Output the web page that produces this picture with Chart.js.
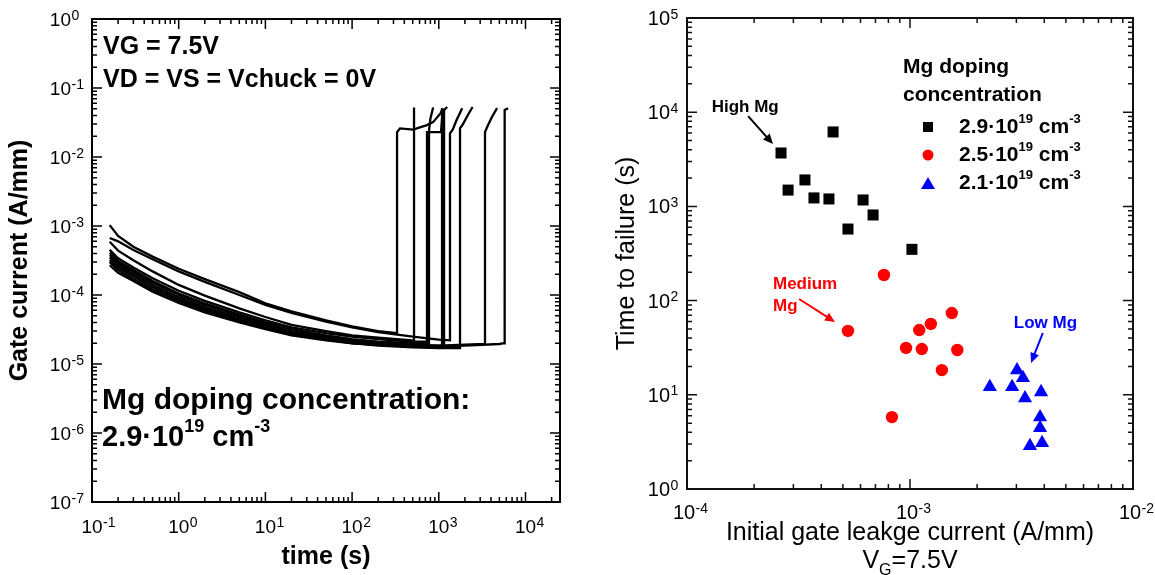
<!DOCTYPE html>
<html lang="en">
<head>
<meta charset="UTF-8">
<title>Gate current and time to failure</title>
<script src="https://cdn.jsdelivr.net/npm/chart.js"></script>
<style>
  body { margin: 0; background: #fff; width: 1155px; height: 575px; position: relative; overflow: hidden; }
  canvas { position: absolute; top: 0; }
  #leftChart { left: 0; }
  #rightChart { left: 575px; }
</style>
</head>
<body>
<canvas id="leftChart" width="575" height="575"></canvas>
<canvas id="rightChart" width="580" height="575"></canvas>
<script>
// ---- left panel: gate current traces (VG = 7.5 V) ----
const decayTime = [0.16, 0.2, 0.3, 0.5, 1, 2, 5, 10, 20, 50, 100, 200, 500, 1000, 2000, 5000];
// current (A/mm) of each trace on decayTime, up to its breakdown
const decayCurrents = [
  [1.03e-3, 7.2e-4, 5.0e-4, 3.6e-4, 2.4e-4, 1.7e-4, 1.1e-4, 7.6e-5, 5.8e-5, 4.3e-5, 3.5e-5, 3.0e-5],
  [6.7e-4, 6.0e-4, 4.5e-4, 3.3e-4, 2.2e-4, 1.55e-4, 1.0e-4, 7.2e-5, 5.5e-5, 4.1e-5, 3.4e-5, 2.9e-5, 2.5e-5, 2.25e-5],
  [5.9e-4, 4.4e-4, 3.2e-4, 2.2e-4, 1.4e-4, 9.8e-5, 6.4e-5, 4.8e-5, 3.7e-5, 3.0e-5, 2.6e-5, 2.4e-5, 2.2e-5],
  [4.5e-4, 3.4e-4, 2.5e-4, 1.75e-4, 1.15e-4, 8.2e-5, 5.6e-5, 4.3e-5, 3.4e-5, 2.8e-5, 2.5e-5, 2.3e-5, 2.1e-5],
  [4.1e-4, 3.1e-4, 2.3e-4, 1.6e-4, 1.05e-4, 7.6e-5, 5.2e-5, 4.0e-5, 3.2e-5, 2.6e-5, 2.3e-5, 2.1e-5, 2.0e-5],
  [3.8e-4, 2.9e-4, 2.15e-4, 1.5e-4, 1.0e-4, 7.2e-5, 5.0e-5, 3.8e-5, 3.0e-5, 2.5e-5, 2.2e-5, 2.0e-5, 1.9e-5, 1.85e-5],
  [3.5e-4, 2.7e-4, 2.0e-4, 1.4e-4, 9.3e-5, 6.7e-5, 4.7e-5, 3.6e-5, 2.9e-5, 2.4e-5, 2.1e-5, 1.95e-5, 1.85e-5, 1.8e-5],
  [3.2e-4, 2.5e-4, 1.85e-4, 1.3e-4, 8.7e-5, 6.3e-5, 4.4e-5, 3.4e-5, 2.75e-5, 2.3e-5, 2.0e-5, 1.85e-5, 1.75e-5, 1.7e-5],
  [3.0e-4, 2.3e-4, 1.7e-4, 1.2e-4, 8.2e-5, 6.0e-5, 4.2e-5, 3.3e-5, 2.7e-5, 2.25e-5, 2.0e-5, 1.9e-5, 1.85e-5, 1.85e-5, 1.9e-5],
  [2.7e-4, 2.1e-4, 1.6e-4, 1.12e-4, 7.7e-5, 5.6e-5, 4.0e-5, 3.2e-5, 2.6e-5, 2.2e-5, 2.0e-5, 1.9e-5, 1.8e-5, 1.8e-5, 1.85e-5, 1.95e-5]
];
// breakdown and after: time (s) and current (A/mm)
const postTimes = [
  [330, 330, 357, 505, 730, 860, 1050, 1100],
  [1346, 1346, 1450, 1600, 1860],
  [518, 518],
  [731, 731, 1060, 1090, 1110],
  [771, 771, 800, 860],
  [1090, 1090, 1150, 1250],
  [1150, 1150],
  [1757, 1757, 1900, 2150, 2450],
  [3412, 3412, 3700, 4100, 4700],
  [5650, 5650, 5800, 5800, 6300]
];
const postCurrents = [
  [2.8e-5, 2.3e-2, 2.6e-2, 2.5e-2, 2.9e-2, 3.2e-2, 4.3e-2, 5.1e-2],
  [2.2e-5, 2.2e-2, 2.5e-2, 3.4e-2, 5.1e-2],
  [2.2e-5, 5.2e-2],
  [2.1e-5, 2.3e-2, 2.3e-2, 3.5e-2, 5.0e-2],
  [2.0e-5, 2.4e-2, 3.6e-2, 5.2e-2],
  [1.85e-5, 4.5e-2, 4.8e-2, 5.3e-2],
  [1.8e-5, 5.0e-2],
  [1.7e-5, 2.6e-2, 3.0e-2, 4.0e-2, 5.3e-2],
  [1.95e-5, 2.3e-2, 2.9e-2, 3.8e-2, 5.1e-2],
  [2.0e-5, 7.2e-3, 7.2e-3, 4.8e-2, 5.1e-2]
];

// ---- right panel: time to failure vs initial leakage ----
const highMgLeak = [2.64e-4, 4.52e-4, 2.84e-4, 3.38e-4, 3.71e-4, 4.33e-4, 5.27e-4, 6.16e-4, 6.83e-4, 1.02e-3];
const highMgTtf  = [3690, 6170, 1490, 1910, 1230, 1200, 575, 1170, 811, 350];
const medMgLeak  = [7.64e-4, 5.27e-4, 9.6e-4, 1.10e-3, 1.24e-3, 1.13e-3, 8.3e-4, 1.39e-3, 1.54e-3, 1.63e-3];
const medMgTtf   = [187, 47.6, 31.4, 48.7, 56.5, 30.6, 5.8, 18.3, 73.8, 29.9];
const lowMgLeak  = [3.02e-3, 3.21e-3, 2.28e-3, 2.87e-3, 3.87e-3, 3.28e-3, 3.83e-3, 3.83e-3, 3.45e-3, 3.91e-3];
const lowMgTtf   = [18.3, 15.1, 12.1, 12.1, 10.7, 9.2, 5.8, 4.45, 2.86, 3.09];
const dopingLabels = ['2.9', '2.5', '2.1'];

const FONT = '"Liberation Sans", Arial, Helvetica, sans-serif';

function logTicks(ctx, scale, a, horizontal, major, minor) {
  const lo = Math.floor(Math.log10(scale.min)), hi = Math.ceil(Math.log10(scale.max));
  for (let e = lo; e <= hi; e++) {
    for (let m = 1; m <= 9; m++) {
      const v = m * Math.pow(10, e);
      if (v < scale.min * 0.999 || v > scale.max * 1.001) continue;
      const p = scale.getPixelForValue(v);
      const len = m === 1 ? major : minor;
      ctx.beginPath();
      if (horizontal) {
        ctx.moveTo(p, a.bottom); ctx.lineTo(p, a.bottom - len);
        ctx.moveTo(p, a.top); ctx.lineTo(p, a.top + len);
      } else {
        ctx.moveTo(a.left, p); ctx.lineTo(a.left + len, p);
        ctx.moveTo(a.right, p); ctx.lineTo(a.right - len, p);
      }
      ctx.stroke();
    }
  }
}

// "10" with exponent; anchor refers to the "10" part
function powLabel(ctx, e, x, base, anchor, size, supSize) {
  ctx.font = size + 'px ' + FONT;
  ctx.textBaseline = 'alphabetic';
  ctx.textAlign = 'left';
  const w = ctx.measureText('10').width;
  const x0 = anchor === 'right' ? x - w : x - w / 2;
  ctx.fillText('10', x0, base);
  ctx.font = supSize + 'px ' + FONT;
  ctx.fillText(e < 0 ? '-' + (-e) : String(e), x0 + w + 0.5, base - size * 0.32);
}

// parts: [text, 0 normal | 1 superscript | -1 subscript]
function richText(ctx, parts, x, y, size, weight, color, align) {
  const small = Math.round(size * 0.62);
  const fontOf = p => weight + ' ' + (p[1] ? small : size) + 'px ' + FONT;
  let total = 0;
  parts.forEach(p => { ctx.font = fontOf(p); total += ctx.measureText(p[0]).width; });
  let cx = align === 'center' ? x - total / 2 : x;
  ctx.fillStyle = color;
  ctx.textAlign = 'left';
  ctx.textBaseline = 'alphabetic';
  parts.forEach(p => {
    ctx.font = fontOf(p);
    const dy = p[1] === 1 ? -size * 0.5 : p[1] === -1 ? size * 0.28 : 0;
    ctx.fillText(p[0], cx, y + dy);
    cx += ctx.measureText(p[0]).width;
  });
}

function arrow(ctx, x1, y1, x2, y2, color) {
  const ang = Math.atan2(y2 - y1, x2 - x1), L = 10, W = 4.5;
  const c = Math.cos(ang), s = Math.sin(ang);
  ctx.strokeStyle = color; ctx.fillStyle = color; ctx.lineWidth = 2;
  ctx.beginPath(); ctx.moveTo(x1, y1); ctx.lineTo(x2 - L * 0.8 * c, y2 - L * 0.8 * s); ctx.stroke();
  ctx.beginPath();
  ctx.moveTo(x2, y2);
  ctx.lineTo(x2 - L * c + W * s, y2 - L * s - W * c);
  ctx.lineTo(x2 - L * c - W * s, y2 - L * s + W * c);
  ctx.closePath(); ctx.fill();
}

// ---------------- left chart ----------------
const traces = decayCurrents.map((cur, k) => {
  const pts = cur.map((v, i) => ({ x: decayTime[i], y: v }));
  postTimes[k].forEach((t, i) => pts.push({ x: t, y: postCurrents[k][i] }));
  return { data: pts, borderColor: '#000', borderWidth: 2.3, pointRadius: 0, tension: 0, fill: false };
});

const leftDecor = {
  id: 'leftDecor',
  afterDraw(chart) {
    const { ctx, chartArea: a, scales: { x, y } } = chart;
    ctx.save();
    ctx.strokeStyle = '#000';
    ctx.lineWidth = 1.5;
    logTicks(ctx, x, a, true, 10, 5);
    logTicks(ctx, y, a, false, 10, 5);
    ctx.lineWidth = 2;
    ctx.strokeRect(a.left, a.top, a.right - a.left, a.bottom - a.top);

    ctx.fillStyle = '#000';
    for (let e = -7; e <= 0; e++) powLabel(ctx, e, a.left - 21, y.getPixelForValue(Math.pow(10, e)) + 7, 'right', 19, 14);
    for (let e = -1; e <= 4; e++) powLabel(ctx, e, x.getPixelForValue(Math.pow(10, e)), 533, 'center', 19, 14);

    // axis titles
    ctx.font = 'bold 25px ' + FONT;
    ctx.textAlign = 'center';
    ctx.textBaseline = 'middle';
    ctx.fillText('time (s)', (a.left + a.right) / 2, 557);
    ctx.save();
    ctx.translate(20, (a.top + a.bottom) / 2);
    ctx.rotate(-Math.PI / 2);
    ctx.fillText('Gate current (A/mm)', 0, 0);
    ctx.restore();

    // conditions and doping text
    ctx.textAlign = 'left';
    ctx.textBaseline = 'alphabetic';
    ctx.font = 'bold 25px ' + FONT;
    ctx.fillText('VG = 7.5V', a.left + 11, 54);
    ctx.fillText('VD = VS = Vchuck = 0V', a.left + 11, 87);
    ctx.font = 'bold 30px ' + FONT;
    ctx.fillText('Mg doping concentration:', a.left + 10, 409);
    richText(ctx, [[dopingLabels[0] + '·10', 0], ['19', 1], [' cm', 0], ['-3', 1]], a.left + 10, 446, 29, 'bold', '#000', 'left');
    ctx.restore();
  }
};

new Chart(document.getElementById('leftChart'), {
  type: 'line',
  data: { datasets: traces },
  options: {
    responsive: false,
    devicePixelRatio: 1,
    animation: false,
    layout: { padding: { left: 92, right: 15, top: 19, bottom: 73 } },
    scales: {
      x: { type: 'logarithmic', min: 0.1, max: 25000, display: false },
      y: { type: 'logarithmic', min: 1e-7, max: 1, display: false }
    },
    plugins: { legend: { display: false }, tooltip: { enabled: false } }
  },
  plugins: [leftDecor]
});

// ---------------- right chart ----------------
const toPts = (xs, ys) => xs.map((v, i) => ({ x: v, y: ys[i] }));

const notes = [
  { lines: ['High Mg'], color: '#000', at: [1.29e-4, 1.0e4], from: [1.88e-4, 9100], to: [2.43e-4, 4590] },
  { lines: ['Medium', 'Mg'], color: '#f00', at: [2.43e-4, 133], from: [3.18e-4, 104], to: [4.61e-4, 59.3] },
  { lines: ['Low Mg'], color: '#00f', at: [2.92e-3, 51.2], from: [3.94e-3, 45.3], to: [3.49e-3, 21.8] }
];

const rightDecor = {
  id: 'rightDecor',
  afterDraw(chart) {
    const { ctx, chartArea: a, scales: { x, y } } = chart;
    ctx.save();
    ctx.strokeStyle = '#111';
    ctx.lineWidth = 1.5;
    logTicks(ctx, x, a, true, 10, 5);
    logTicks(ctx, y, a, false, 10, 5);
    ctx.lineWidth = 2;
    ctx.strokeRect(a.left, a.top, a.right - a.left, a.bottom - a.top);

    ctx.fillStyle = '#000';
    for (let e = 0; e <= 5; e++) powLabel(ctx, e, a.left - 17, y.getPixelForValue(Math.pow(10, e)) + 7, 'right', 20, 14);
    for (let e = -4; e <= -2; e++) powLabel(ctx, e, x.getPixelForValue(Math.pow(10, e)) - 3, 519, 'center', 20, 14);

    ctx.font = '25px ' + FONT;
    ctx.textAlign = 'center';
    ctx.textBaseline = 'middle';
    ctx.fillText('Initial gate leakge current (A/mm)', (a.left + a.right) / 2, 533);
    richText(ctx, [['V', 0], ['G', -1], ['=7.5V', 0]], (a.left + a.right) / 2, 568, 25, 'normal', '#000', 'center');
    ctx.save();
    ctx.translate(52, (a.top + a.bottom) / 2);
    ctx.rotate(-Math.PI / 2);
    ctx.textAlign = 'center';
    ctx.textBaseline = 'middle';
    ctx.font = '25px ' + FONT;
    ctx.fillText('Time to failure (s)', 0, 0);
    ctx.restore();

    // annotations with arrows
    notes.forEach(n => {
      const tx = x.getPixelForValue(n.at[0]), ty = y.getPixelForValue(n.at[1]);
      ctx.font = 'bold 17px ' + FONT;
      ctx.fillStyle = n.color;
      ctx.textAlign = 'left';
      ctx.textBaseline = 'alphabetic';
      n.lines.forEach((l, i) => ctx.fillText(l, tx, ty + i * 22));
      arrow(ctx, x.getPixelForValue(n.from[0]), y.getPixelForValue(n.from[1]),
        x.getPixelForValue(n.to[0]), y.getPixelForValue(n.to[1]), n.color);
    });

    // legend
    const lx = a.left + 216, ly = a.top;
    ctx.fillStyle = '#000';
    ctx.font = 'bold 21px ' + FONT;
    ctx.textAlign = 'left';
    ctx.textBaseline = 'alphabetic';
    ctx.fillText('Mg doping', lx, ly + 55);
    ctx.fillText('concentration', lx, ly + 83);
    chart.data.datasets.forEach((ds, i) => {
      const my = ly + 109 + i * 28;
      const mx = lx + 25;
      ctx.fillStyle = ds.backgroundColor;
      ctx.beginPath();
      if (ds.pointStyle === 'rect') ctx.rect(mx - 5, my - 5, 10, 10);
      else if (ds.pointStyle === 'circle') ctx.arc(mx, my, 5.5, 0, Math.PI * 2);
      else { ctx.moveTo(mx, my - 6); ctx.lineTo(mx + 7, my + 6); ctx.lineTo(mx - 7, my + 6); ctx.closePath(); }
      ctx.fill();
      richText(ctx, [[dopingLabels[i] + '·10', 0], ['19', 1], [' cm', 0], ['-3', 1]], lx + 56, my + 6, 21, 'bold', '#000', 'left');
    });
    ctx.restore();
  }
};

new Chart(document.getElementById('rightChart'), {
  type: 'scatter',
  data: {
    datasets: [
      { data: toPts(highMgLeak, highMgTtf), pointStyle: 'rect', pointRadius: 7.8, backgroundColor: '#000', borderColor: '#000', borderWidth: 0 },
      { data: toPts(medMgLeak, medMgTtf), pointStyle: 'circle', pointRadius: 6.2, backgroundColor: '#f00', borderColor: '#f00', borderWidth: 0 },
      { data: toPts(lowMgLeak, lowMgTtf), pointStyle: 'triangle', pointRadius: 8.2, backgroundColor: '#00f', borderColor: '#00f', borderWidth: 0 }
    ]
  },
  options: {
    responsive: false,
    devicePixelRatio: 1,
    animation: false,
    layout: { padding: { left: 112, right: 22, top: 18, bottom: 86 } },
    scales: {
      x: { type: 'logarithmic', min: 1e-4, max: 1e-2, display: false },
      y: { type: 'logarithmic', min: 1, max: 1e5, display: false }
    },
    plugins: { legend: { display: false }, tooltip: { enabled: false } }
  },
  plugins: [rightDecor]
});
</script>
</body>
</html>
